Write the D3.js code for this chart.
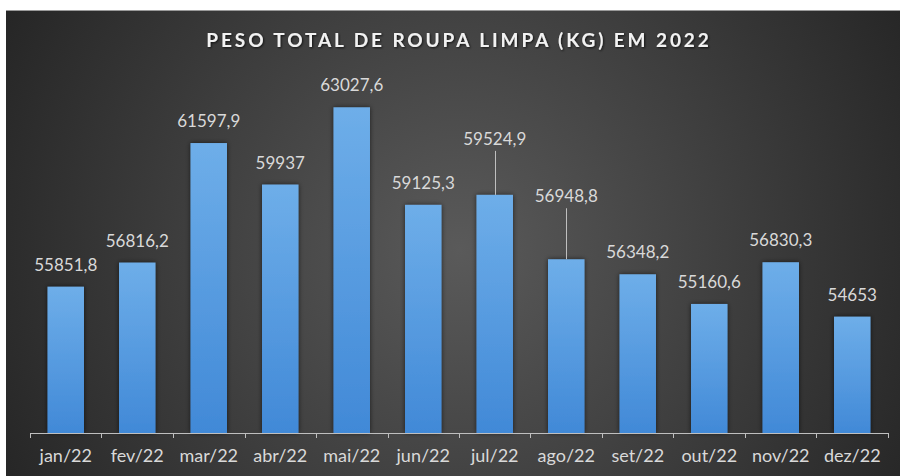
<!DOCTYPE html>
<html>
<head>
<meta charset="utf-8">
<script src="https://cdn.jsdelivr.net/npm/d3@7"></script>
<style>
  html, body { margin: 0; padding: 0; background: #fff; }
  svg { display: block; }
</style>
</head>
<body>
<div id="chart"></div>
<script>
// chart data
const months = ["jan/22", "fev/22", "mar/22", "abr/22", "mai/22", "jun/22",
  "jul/22", "ago/22", "set/22", "out/22", "nov/22", "dez/22"];
const pesoKg = [55851.8, 56816.2, 61597.9, 59937, 63027.6, 59125.3,
  59524.9, 56948.8, 56348.2, 55160.6, 56830.3, 54653];
const chartTitle = "PESO TOTAL DE ROUPA LIMPA (KG) EM 2022";
const yDomain = [50000, 65000];

const w = 900, h = 476;
const plot = { left: 30, right: 888, top: 58, bottom: 433 };

// labels that excel pushed up with a leader line
const labelLift = { "jul/22": 34, "ago/22": 41 };

const svg = d3.select("#chart").append("svg")
  .attr("width", w)
  .attr("height", h);

const defs = svg.append("defs");

const bg = defs.append("radialGradient")
  .attr("id", "bg")
  .attr("gradientUnits", "userSpaceOnUse")
  .attr("cx", 460).attr("cy", 250).attr("r", 520);
bg.append("stop").attr("offset", "0%").attr("stop-color", "#5a5a5a");
bg.append("stop").attr("offset", "100%").attr("stop-color", "#252525");

const barGrad = defs.append("linearGradient")
  .attr("id", "barGrad")
  .attr("x1", 0).attr("y1", 0).attr("x2", 0).attr("y2", 1);
barGrad.append("stop").attr("offset", "0%").attr("stop-color", "#6eaee9");
barGrad.append("stop").attr("offset", "100%").attr("stop-color", "#4189d7");

const shadow = defs.append("filter")
  .attr("id", "shadow")
  .attr("x", "-30%").attr("y", "-10%").attr("width", "160%").attr("height", "120%");
shadow.append("feDropShadow")
  .attr("dx", 0).attr("dy", 0).attr("stdDeviation", 2.5)
  .attr("flood-color", "#000").attr("flood-opacity", 0.6);

const titleShadow = defs.append("filter").attr("id", "titleShadow");
titleShadow.append("feDropShadow")
  .attr("dx", 1).attr("dy", 1).attr("stdDeviation", 1)
  .attr("flood-color", "#000").attr("flood-opacity", 0.7);

// background
svg.append("rect")
  .attr("x", 6).attr("y", 10)
  .attr("width", w - 6).attr("height", h - 10)
  .attr("fill", "url(#bg)");
svg.append("line")
  .attr("x1", 6).attr("x2", w).attr("y1", 10.5).attr("y2", 10.5)
  .attr("stroke", "#9a9a9a");

const x = d3.scaleBand()
  .domain(months)
  .range([plot.left, plot.right])
  .paddingInner(0.49)
  .paddingOuter(0.245);

const y = d3.scaleLinear()
  .domain(yDomain)
  .range([plot.bottom, plot.top]);

const data = months.map((m, i) => ({ month: m, value: pesoKg[i] }));

svg.append("g")
  .selectAll("rect")
  .data(data)
  .enter()
  .append("rect")
  .attr("x", (d) => x(d.month))
  .attr("y", (d) => y(d.value))
  .attr("width", x.bandwidth())
  .attr("height", (d) => y(yDomain[0]) - y(d.value))
  .attr("fill", "url(#barGrad)")
  .attr("filter", "url(#shadow)");

// axis: labels from d3, ticks between categories like excel
const xAxis = d3.axisBottom(x).tickSize(0).tickPadding(16);
const gx = svg.append("g")
  .attr("transform", `translate(0,${plot.bottom})`)
  .call(xAxis);
gx.select(".domain").remove();
gx.selectAll("text")
  .attr("fill", "#d9d9d9")
  .style("font-family", "Lato, sans-serif")
  .style("font-size", "18px");

svg.append("line")
  .attr("x1", plot.left).attr("x2", plot.right)
  .attr("y1", plot.bottom + 0.5).attr("y2", plot.bottom + 0.5)
  .attr("stroke", "#bfbfbf");

const gap = (x.step() - x.bandwidth()) / 2;
const bounds = months.map((m) => x(m) - gap).concat([plot.right]);
svg.append("g")
  .selectAll("line")
  .data(bounds)
  .enter()
  .append("line")
  .attr("x1", (d) => Math.round(d) + 0.5)
  .attr("x2", (d) => Math.round(d) + 0.5)
  .attr("y1", plot.bottom)
  .attr("y2", plot.bottom + 5)
  .attr("stroke", "#bfbfbf");

// data labels
const fmt = (v) => String(v).replace(".", ",");
const labels = svg.append("g");
data.forEach((d) => {
  const cx = x(d.month) + x.bandwidth() / 2;
  const top = y(d.value);
  const lift = labelLift[d.month] || 0;
  labels.append("text")
    .attr("x", cx)
    .attr("y", top - 16 - lift)
    .attr("text-anchor", "middle")
    .attr("fill", "#d9d9d9")
    .style("font-family", "Lato, sans-serif")
    .style("font-size", "17px")
    .text(fmt(d.value));
  if (lift) {
    labels.append("line")
      .attr("x1", Math.round(cx) + 0.5).attr("x2", Math.round(cx) + 0.5)
      .attr("y1", top - lift - 10).attr("y2", top)
      .attr("stroke", "#bfbfbf");
  }
});

// title
svg.append("text")
  .attr("x", 459)
  .attr("y", 47)
  .attr("text-anchor", "middle")
  .attr("fill", "#f2f2f2")
  .attr("filter", "url(#titleShadow)")
  .style("font-family", "Lato, sans-serif")
  .style("font-weight", "bold")
  .style("font-size", "19px")
  .style("letter-spacing", "2.9px")
  .text(chartTitle);
</script>
</body>
</html>
